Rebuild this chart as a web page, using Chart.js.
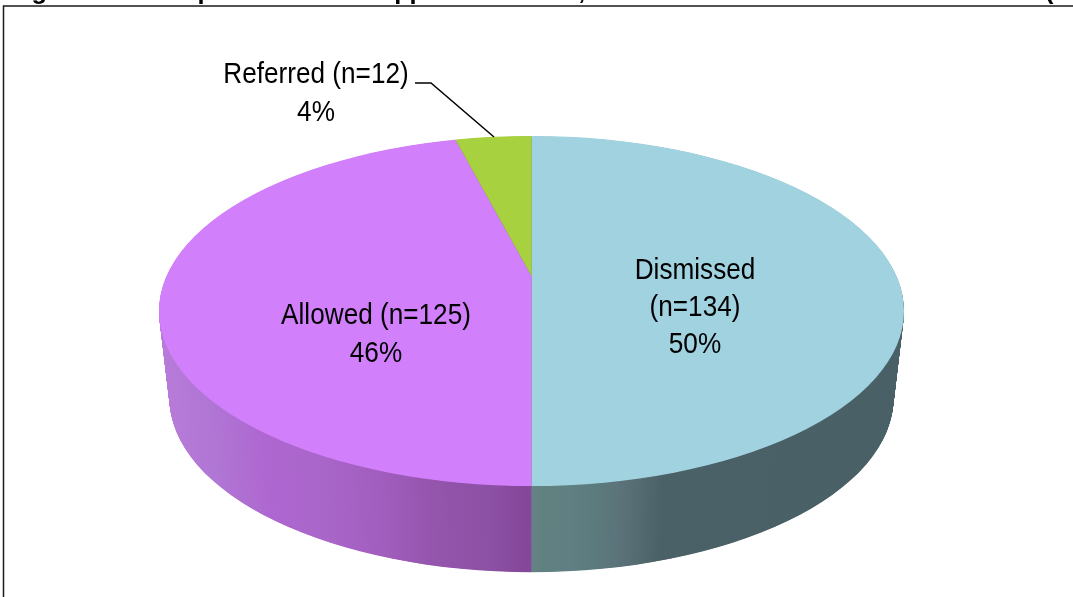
<!DOCTYPE html>
<html><head><meta charset="utf-8">
<style>html,body{margin:0;padding:0;background:#fff;overflow:hidden}#w{position:relative;width:1073px;height:597px}canvas{display:block}</style>
<script src="https://cdn.jsdelivr.net/npm/chart.js@4"></script>
</head><body><div id="w"><canvas id="c" width="1073" height="597"></canvas></div>
<script>
const categories = ["Dismissed", "Allowed", "Referred"];
const counts = [134, 125, 12];
const percentValues = [50, 46, 4];
const topColors = ["#A1D2E0", "#D27FFB", "#A8D140"];
const titleText = "Figure 10.2: Disposal of those Appeals for 2014, Allowed and Dismissed and Referred (n=271)";

const CX = 531.5, CY = 311, RX = 372.5, RY = 175, DEPTH = 87, BOTTOM_SCALE_X = 0.972, BOTTOM_SCALE_Y = 0.995;
// perspective of the disc: the circle's centre projects to APEX_Y, above the ellipse centre
const APEX_Y = 276, P = 0.2, BV = 168, CU = 365;
function project(theta) { // theta in the library's arc convention
  const u = Math.cos(theta), v = Math.sin(theta), w = 1 - P * v;
  return { x: CX + CU * u / w, y: APEX_Y + BV * v / w };
}
function wedgePath(ctx, arc) {
  const a0 = arc.startAngle, a1 = arc.endAngle;
  ctx.beginPath();
  ctx.moveTo(CX, APEX_Y);
  for (let k = 0; k <= 6; k++) {
    const p = project(a0 + (a1 - a0) * k / 6);
    ctx.lineTo(CX + (p.x - CX) * 3, APEX_Y + (p.y - APEX_Y) * 3);
  }
  ctx.closePath();
}
function sideFill(ctx, i) {
  if (i === 0) {
    const g = ctx.createLinearGradient(531, 0, 900, 0);
    [[0, "#678388"], [0.06, "#60817F"], [0.12, "#5F7F84"], [0.2, "#5B7A7C"], [0.26, "#5C727A"], [0.31, "#536C70"], [0.37, "#4B6168"], [1, "#4A6067"]]
      .forEach(s => g.addColorStop(s[0], s[1]));
    return g;
  }
  if (i === 1) {
    const g = ctx.createLinearGradient(160, 0, 531, 0);
    [[0, "#B87BDA"], [0.15, "#B076D4"], [0.3, "#AE66D0"], [0.45, "#A966C9"], [0.6, "#A25EBE"], [0.75, "#9455AD"], [0.9, "#8C50A4"], [1, "#84479A"]]
      .forEach(s => g.addColorStop(s[0], s[1]));
    return g;
  }
  return "#6E8A2A";
}
function copyArc(arc, fill) {
  // same library element, drawn as the whole disc; the wedge comes from the clip
  const a = Object.create(arc);
  a.startAngle = -Math.PI / 2;
  a.endAngle = Math.PI * 1.5;
  a.circumference = Math.PI * 2;
  a.getProps = function () { return { x: arc.x, y: arc.y, startAngle: a.startAngle, endAngle: a.endAngle, innerRadius: 0, outerRadius: arc.outerRadius, circumference: a.circumference }; };
  a.options = {backgroundColor: fill, borderColor: fill, borderWidth: 0, borderAlign: "center", offset: 0, spacing: 0, circular: true, borderRadius: 0, borderJoinStyle: "round", borderDash: [], borderDashOffset: 0};
  return a;
}
const tilted = {
  id: "tilted",
  beforeDatasetsDraw(chart) {
    const ctx = chart.ctx, arcs = chart.getDatasetMeta(0).data;
    const sides = arcs.map((a, i) => copyArc(a, sideFill(ctx, i)));
    const tops = arcs.map((a, i) => copyArc(a, topColors[i]));
    const paint = (el, arc, d, sx, sy) => {
      ctx.save();
      ctx.translate(0, d);
      wedgePath(ctx, arc);
      ctx.clip();
      ctx.translate(CX, CY);
      ctx.scale(sx, sy);
      ctx.translate(-arc.x, -arc.y);
      el.draw(ctx);
      ctx.restore();
    };
    for (let d = DEPTH; d > 0; d -= 0.5) {
      const t = d / DEPTH;
      const sx = 1 - t + t * BOTTOM_SCALE_X, sy = (RY / RX) * (1 - t + t * BOTTOM_SCALE_Y);
      [2, 1, 0].forEach(i => paint(sides[i], arcs[i], d, sx, sy));
    }
    tops.forEach((el, i) => paint(el, arcs[i], 0, 1, RY / RX));
    return false;
  },
  afterDraw(chart) {
    const ctx = chart.ctx;
    ctx.save();
    ctx.strokeStyle = "#1a1a1a"; ctx.lineWidth = 1.5;
    ctx.beginPath(); ctx.moveTo(3.5, 598); ctx.lineTo(3.5, 6); ctx.lineTo(1074, 6); ctx.stroke();
    ctx.strokeStyle = "#000"; ctx.lineWidth = 1.5;
    ctx.beginPath(); ctx.moveTo(415, 83); ctx.lineTo(431, 83); ctx.lineTo(494, 137); ctx.stroke();
    ctx.fillStyle = "#000"; ctx.textAlign = "center"; ctx.textBaseline = "alphabetic";
    ctx.font = '30px "Liberation Sans",sans-serif';
    const line = (s, x, y) => { ctx.save(); ctx.translate(x, y); ctx.scale(0.872, 1); ctx.fillText(s, 0, 0); ctx.restore(); };
    line(categories[0], 695, 279);
    line("(n=" + counts[0] + ")", 695, 316);
    line(percentValues[0] + "%", 695, 353);
    line(categories[1] + " (n=" + counts[1] + ")", 376, 324);
    line(percentValues[1] + "%", 376, 362);
    line(categories[2] + " (n=" + counts[2] + ")", 316, 83);
    line(percentValues[2] + "%", 316, 121);
    ctx.font = 'bold 25.3px "Liberation Sans",sans-serif';
    ctx.textAlign = "left";
    ctx.fillText(titleText, 9, -1);
    ctx.restore();
  }
};
new Chart(document.getElementById("c"), {
  type: "pie",
  data: { labels: categories, datasets: [{ data: percentValues, backgroundColor: topColors, borderWidth: 0, radius: RX, clip: false }] },
  options: {
    responsive: false, animation: false,
    plugins: { legend: { display: false }, tooltip: { enabled: false }, title: { display: false } }
  },
  plugins: [tilted]
});
</script></body></html>
